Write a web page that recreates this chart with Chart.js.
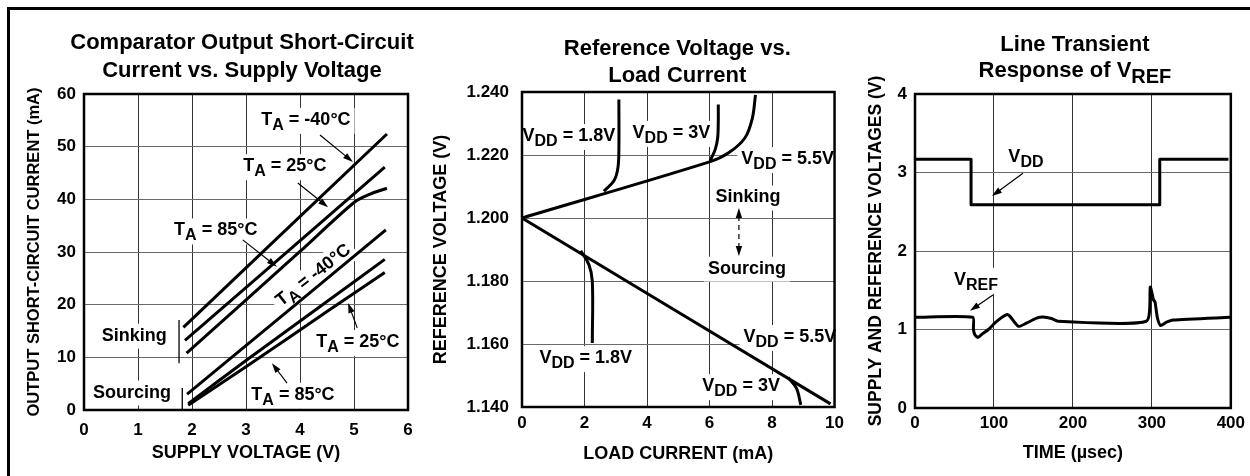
<!DOCTYPE html>
<html>
<head>
<meta charset="utf-8">
<title>Comparator / reference characteristics</title>
<script src="https://cdn.jsdelivr.net/npm/chart.js@4.4.1/dist/chart.umd.min.js"></script>
<style>
  html, body { margin: 0; padding: 0; background: #fff; }
  body { width: 1250px; height: 476px; position: relative; overflow: hidden; }
  .frame { position: absolute; left: 7px; top: 7px; width: 1260px; height: 480px;
           border-top: 3px solid #000; border-left: 3px solid #000; }
  canvas { position: absolute; top: 10px; }
  #c1 { left: 10px; }
  #c2 { left: 425px; }
  #c3 { left: 850px; }
</style>
</head>
<body>
<div class="frame"></div>
<canvas id="c1" width="415" height="466"></canvas>
<canvas id="c2" width="425" height="466"></canvas>
<canvas id="c3" width="400" height="466"></canvas>
<script>
// --- Comparator output short-circuit current: [supply V, mA]
const supplyTicks = [0, 1, 2, 3, 4, 5, 6];
const currentTicks = [0, 10, 20, 30, 40, 50, 60];
const sinkM40 = [[1.84, 15.7], [5.61, 52.4]];
const sink25 = [[1.87, 13.2], [5.57, 46.1]];
const sink85 = [[1.90, 10.8], [4.0, 30.1], [5.0, 39.4], [5.3, 41.0], [5.61, 42.1]];
const srcM40 = [[1.91, 3.0], [5.59, 34.2]];
const src25 = [[1.93, 1.2], [3.0, 9.4], [4.5, 20.6], [5.57, 28.6]];
const src85 = [[1.93, 0.9], [3.0, 8.2], [4.5, 18.7], [5.57, 26.1]];

// --- Reference voltage vs load current: [mA, V]
const loadTicks = [0, 2, 4, 6, 8, 10];
const vrefTicks = [1.14, 1.16, 1.18, 1.20, 1.22, 1.24];
const sink55 = [[0, 1.2], [6.0, 1.2178], [6.6, 1.2206], [7.13, 1.2254], [7.37, 1.2317], [7.47, 1.2391]];
const sink3 = [[6.02, 1.2182], [6.18, 1.2217], [6.26, 1.2254], [6.28, 1.2307], [6.28, 1.236]];
const sink18 = [[2.62, 1.2085], [2.95, 1.212], [3.07, 1.216], [3.1, 1.222], [3.1, 1.2376]];
const src55 = [[0, 1.2], [9.87, 1.141]];
const src18 = [[1.88, 1.1896], [2.14, 1.1852], [2.25, 1.1799], [2.25, 1.1603]];
const src3 = [[8.51, 1.1494], [8.78, 1.146], [8.92, 1.1407]];

// --- Line transient response: [usec, V]
const timeTicks = [0, 100, 200, 300, 400];
const voltTicks = [0, 1, 2, 3, 4];
const vddStep = [[0, 3.17], [71, 3.17], [71, 2.59], [310, 2.59], [310, 3.17], [397, 3.17]];
const vrefResp = [[0, 1.155], [73, 1.155], [74, 1.0], [76, 0.93], [80, 0.90], [86, 0.95], [93, 1.0],
  [103, 1.10], [116, 1.19], [120, 1.17], [131, 1.04], [141, 1.08], [154, 1.145], [162, 1.16],
  [173, 1.14], [181, 1.105], [293, 1.105], [298, 1.54], [300, 1.47], [302, 1.38], [304, 1.35],
  [307, 1.15], [311, 1.05], [318, 1.09], [327, 1.12], [399, 1.155]];

const FONT = '"Liberation Sans", Arial, Helvetica, sans-serif';
Chart.defaults.font.family = FONT;
Chart.defaults.font.weight = 'bold';
Chart.defaults.color = '#000';

function fnt(size) { return 'bold ' + size + 'px ' + FONT; }

// "V_{DD} = 3V" -> pieces with subscripts
function parseRich(s) {
  const out = [];
  const re = /_\{([^}]*)\}/g;
  let last = 0, m;
  while ((m = re.exec(s))) {
    if (m.index > last) out.push({t: s.slice(last, m.index), sub: false});
    out.push({t: m[1], sub: true});
    last = re.lastIndex;
  }
  if (last < s.length) out.push({t: s.slice(last), sub: false});
  return out;
}

function drawRich(ctx, str, cx, cy, size, opts) {
  const parts = parseRich(str);
  const subSize = Math.round(size * 0.9);
  const drop = size * 0.28;
  const cap = size * 0.72;
  const hasSub = parts.some(p => p.sub);
  let w = 0;
  parts.forEach(p => { ctx.font = fnt(p.sub ? subSize : size); p.w = ctx.measureText(p.t).width; w += p.w; });
  const base = opts.baseline ? 0 : (hasSub ? (cap - drop) / 2 : cap / 2);
  ctx.save();
  ctx.translate(cx, cy);
  if (opts.rot) ctx.rotate(opts.rot * Math.PI / 180);
  if (opts.bg) {
    ctx.fillStyle = '#fff';
    ctx.fillRect(-w / 2 - 4, base - cap - 4, w + 8, cap + (hasSub ? drop : size * 0.22) + 8);
  }
  ctx.fillStyle = '#000';
  ctx.textAlign = 'left';
  ctx.textBaseline = 'alphabetic';
  let x = -w / 2;
  parts.forEach(p => {
    ctx.font = fnt(p.sub ? subSize : size);
    ctx.fillText(p.t, x, base + (p.sub ? drop : 0));
    x += p.w;
  });
  ctx.restore();
}

function drawArrow(ctx, x1, y1, x2, y2, it) {
  const ang = Math.atan2(y2 - y1, x2 - x1);
  const L = 10, W = 3.2;
  const head = (x, y, a) => {
    ctx.beginPath();
    ctx.moveTo(x, y);
    ctx.lineTo(x - L * Math.cos(a) + W * Math.sin(a), y - L * Math.sin(a) - W * Math.cos(a));
    ctx.lineTo(x - L * Math.cos(a) - W * Math.sin(a), y - L * Math.sin(a) + W * Math.cos(a));
    ctx.closePath();
    ctx.fill();
  };
  ctx.save();
  ctx.strokeStyle = '#000';
  ctx.fillStyle = '#000';
  ctx.lineWidth = 1.2;
  if (it.dash) ctx.setLineDash(it.dash);
  const s = it.both ? L * 0.8 : 0;
  ctx.beginPath();
  ctx.moveTo(x1 + s * Math.cos(ang), y1 + s * Math.sin(ang));
  ctx.lineTo(x2 - L * 0.8 * Math.cos(ang), y2 - L * 0.8 * Math.sin(ang));
  ctx.stroke();
  ctx.setLineDash([]);
  head(x2, y2, ang);
  if (it.both) head(x1, y1, ang + Math.PI);
  ctx.restore();
}

// labels, arrows, plot frame and the two-line heading
function notesPlugin(heading, items) {
  return {
    id: 'notes',
    beforeDatasetsDraw(chart) {
      const ctx = chart.ctx, xs = chart.scales.x, ys = chart.scales.y;
      const X = v => xs.getPixelForValue(v), Y = v => ys.getPixelForValue(v);
      items.forEach(it => {
        if (it.t) {
          drawRich(ctx, it.t, X(it.x), Y(it.y), 18, {bg: true, rot: it.rot});
        } else if (it.l) {
          ctx.save();
          ctx.strokeStyle = '#000';
          ctx.lineWidth = 1.3;
          ctx.beginPath();
          ctx.moveTo(X(it.l[0]), Y(it.l[1]));
          ctx.lineTo(X(it.l[2]), Y(it.l[3]));
          ctx.stroke();
          ctx.restore();
        } else if (it.a) {
          drawArrow(ctx, X(it.a[0]), Y(it.a[1]), X(it.a[2]), Y(it.a[3]), it);
        }
      });
    },
    afterDraw(chart) {
      const ctx = chart.ctx, a = chart.chartArea;
      ctx.save();
      ctx.strokeStyle = '#000';
      ctx.lineWidth = 2.5;
      ctx.strokeRect(a.left, a.top, a.right - a.left, a.bottom - a.top);
      ctx.restore();
      const cx = (a.left + a.right) / 2 + heading.dx;
      heading.lines.forEach((s, i) => drawRich(ctx, s, cx, heading.base[i], 22, {baseline: true}));
    }
  };
}

function series(pts, tension) {
  return {
    data: pts.map(p => ({x: p[0], y: p[1]})),
    borderColor: '#000', borderWidth: 3, pointRadius: 0, fill: false,
    tension: tension, borderJoinStyle: 'round'
  };
}

function axis(tickVals, title, o) {
  return {
    type: 'linear',
    min: tickVals[0],
    max: tickVals[tickVals.length - 1],
    afterBuildTicks: s => { s.ticks = tickVals.map(v => ({value: v})); },
    afterFit: s => { if (o.w) s.width = o.w; if (o.h) s.height = o.h; },
    grid: {color: o.gridColor, lineWidth: 1, drawTicks: false},
    border: {display: false},
    ticks: {
      padding: o.pad, color: '#000', font: {size: 17, weight: 'bold'},
      maxRotation: 0, autoSkip: false,
      callback: o.fmt || (v => String(v))
    },
    title: {
      display: true, text: title, color: '#000',
      font: {size: o.tsize || 18, weight: 'bold'},
      padding: o.tpad
    }
  };
}

function makeChart(id, datasets, cfg) {
  return new Chart(document.getElementById(id), {
    type: 'line',
    data: {datasets: datasets},
    options: {
      responsive: false,
      animation: false,
      devicePixelRatio: 1,
      events: [],
      layout: {padding: cfg.pad},
      plugins: {legend: {display: false}, tooltip: {enabled: false}},
      scales: {x: cfg.x, y: cfg.y}
    },
    plugins: [notesPlugin(cfg.heading, cfg.notes)]
  });
}

const VGRID = '#333', HGRID = '#6a6a6a';

// Panel 1
makeChart('c1',
  [sinkM40, sink25, sink85, srcM40, src25, src85].map(s => series(s, 0.3)),
  {
    pad: {left: 0, right: 17, top: 84, bottom: 0},
    x: axis(supplyTicks, 'SUPPLY VOLTAGE (V)', {h: 66, pad: 10, gridColor: VGRID, tpad: {top: 0, bottom: 12}}),
    y: axis(currentTicks, 'OUTPUT SHORT-CIRCUIT CURRENT (mA)', {w: 74, pad: 8, gridColor: HGRID, tsize: 16.5, tpad: {top: 15, bottom: 0}}),
    heading: {lines: ['Comparator Output Short-Circuit', 'Current vs. Supply Voltage'], base: [39, 67], dx: -4},
    notes: [
      {t: 'T_{A} = -40°C', x: 4.11, y: 54.9},
      {a: [4.37, 52.2, 4.98, 47.1]},
      {t: 'T_{A} = 25°C', x: 3.72, y: 46.1},
      {a: [3.96, 43.1, 4.52, 38.5]},
      {t: 'T_{A} = 85°C', x: 2.44, y: 33.9},
      {a: [2.94, 32.3, 3.57, 27.2]},
      {t: 'T_{A} = -40°C', x: 4.26, y: 25.4, rot: -38},
      {t: 'Sinking', x: 0.93, y: 14.4},
      {l: [1.76, 17.1, 1.76, 8.9]},
      {t: 'Sourcing', x: 0.89, y: 3.6},
      {l: [1.82, 4.2, 1.82, 0]},
      {t: 'T_{A} = 25°C', x: 5.07, y: 12.7},
      {a: [5.06, 15.6, 4.89, 20.3]},
      {t: 'T_{A} = 85°C', x: 3.87, y: 2.7},
      {a: [3.76, 5.1, 3.48, 8.9]}
    ]
  });

// Panel 2
makeChart('c2',
  [sink55, sink3, sink18, src55, src18, src3].map(s => series(s, 0.35)),
  {
    pad: {left: 0, right: 14, top: 82, bottom: 0},
    x: axis(loadTicks, 'LOAD CURRENT (mA)', {h: 69, pad: 6, gridColor: VGRID, tpad: {top: 0, bottom: 11}}),
    y: axis(vrefTicks, 'REFERENCE VOLTAGE (V)', {w: 97, pad: 13, gridColor: HGRID, tpad: {top: 5, bottom: 0},
      fmt: v => v.toFixed(3)}),
    heading: {lines: ['Reference Voltage vs.', 'Load Current'], base: [45, 72], dx: -1},
    notes: [
      {t: 'V_{DD} = 1.8V', x: 1.50, y: 1.2257},
      {t: 'V_{DD} = 3V', x: 4.78, y: 1.2267},
      {t: 'V_{DD} = 5.5V', x: 8.50, y: 1.2184},
      {t: 'Sinking', x: 7.23, y: 1.207},
      {a: [6.94, 1.1879, 6.94, 1.2032], both: true, dash: [5, 4]},
      {t: 'Sourcing', x: 7.20, y: 1.1844},
      {t: 'V_{DD} = 5.5V', x: 8.57, y: 1.1619},
      {t: 'V_{DD} = 1.8V', x: 2.04, y: 1.1552},
      {t: 'V_{DD} = 3V', x: 7.01, y: 1.1463}
    ]
  });

// Panel 3
makeChart('c3',
  [series(vddStep, 0), series(vrefResp, 0.2)],
  {
    pad: {left: 0, right: 19, top: 84, bottom: 0},
    x: axis(timeTicks, 'TIME (µsec)', {h: 68, pad: 5, gridColor: VGRID, tpad: {top: 0, bottom: 12}}),
    y: axis(voltTicks, 'SUPPLY AND REFERENCE VOLTAGES (V)', {w: 65, pad: 8, gridColor: HGRID, tsize: 17.5, tpad: {top: 15.5, bottom: 0}}),
    heading: {lines: ['Line Transient', 'Response of V_{REF}'], base: [41, 67], dx: 2},
    notes: [
      {t: 'V_{DD}', x: 140.5, y: 3.18},
      {a: [136.7, 2.99, 97.5, 2.70]},
      {t: 'V_{REF}', x: 77.2, y: 1.62},
      {a: [98.7, 1.44, 69.6, 1.24]}
    ]
  });
</script>
</body>
</html>
